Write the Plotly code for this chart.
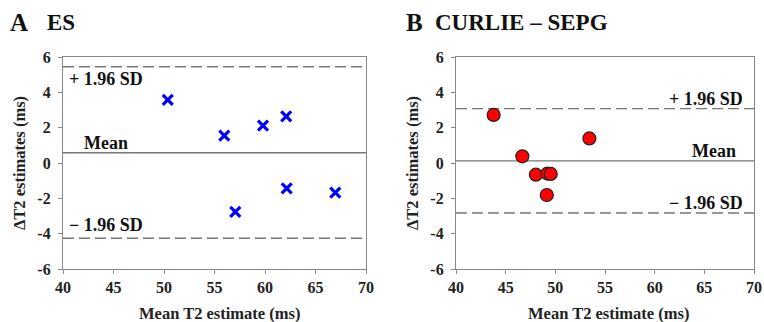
import plotly.graph_objects as go

# Panel A (ES)
a_x = [50.37, 55.97, 59.8, 62.1, 57.06, 62.15, 66.96]
a_y = [3.57, 1.55, 2.11, 2.64, -2.77, -1.43, -1.68]
a_mean, a_upper, a_lower = 0.58, 5.45, -4.26

# Panel B (CURLIE - SEPG)
b_x = [43.79, 46.68, 48.04, 49.2, 49.54, 49.14, 53.43]
b_y = [2.72, 0.38, -0.66, -0.6, -0.62, -1.81, 1.39]
b_mean, b_upper, b_lower = 0.12, 3.08, -2.83

x_ticks = [40, 45, 50, 55, 60, 65, 70]
y_ticks = [-6, -4, -2, 0, 2, 4, 6]

FONT = "Liberation Serif"
W, H = 764, 322

fig = go.Figure()
fig.add_trace(go.Scatter(x=a_x, y=a_y, mode="markers", xaxis="x", yaxis="y",
                         marker=dict(symbol="x-thin", size=10, color="#0000ff",
                                     line=dict(width=3.2, color="#0000ff")),
                         showlegend=False))
fig.add_trace(go.Scatter(x=b_x, y=b_y, mode="markers", xaxis="x2", yaxis="y2",
                         marker=dict(symbol="circle", size=13, color="#ff0000",
                                     line=dict(width=1.2, color="#222222")),
                         showlegend=False))

tickfont = dict(family=FONT, size=16, color="#222")
axis_common = dict(range=[40, 70], tickvals=x_ticks,
                   ticktext=["<b>%d</b>" % v for v in x_ticks],
                   ticks="outside", ticklen=4, automargin=False,
                   tickcolor="#888", showline=True, linecolor="#888", linewidth=1.2,
                   mirror=True, showgrid=False, zeroline=False, tickfont=tickfont)
yaxis_common = dict(range=[-6, 6], tickvals=y_ticks,
                    ticktext=["<b>%d</b>" % v for v in y_ticks],
                    ticks="outside", ticklen=4, automargin=False, ticklabelstandoff=4,
                    tickcolor="#888", showline=True, linecolor="#888", linewidth=1.2,
                    mirror=True, showgrid=False, zeroline=False, tickfont=tickfont)

xa = [63 / W, 366 / W]
xb = [456 / W, 754 / W]
yd = [(H - 269) / H, (H - 57) / H]

fig.update_layout(
    width=W, height=H, margin=dict(l=0, r=0, t=0, b=0),
    paper_bgcolor="white", plot_bgcolor="white",
    font=dict(family=FONT, color="#222"),
    xaxis=dict(domain=xa, anchor="y", **axis_common),
    yaxis=dict(domain=yd, anchor="x", **yaxis_common),
    xaxis2=dict(domain=xb, anchor="y2", **axis_common),
    yaxis2=dict(domain=yd, anchor="x2", **yaxis_common),
)

def hline(xref, yref, y, dash):
    fig.add_shape(type="line", xref=xref + " domain", yref=yref, x0=0, x1=1, y0=y, y1=y,
                  line=dict(color="#777", width=1.4, dash=dash), layer="below")

DASH = "11px,5px"
hline("x", "y", a_mean, "solid")
hline("x", "y", a_upper, DASH)
hline("x", "y", a_lower, DASH)
hline("x2", "y2", b_mean, "solid")
hline("x2", "y2", b_upper, DASH)
hline("x2", "y2", b_lower, DASH)

lab = dict(family=FONT, size=18, color="#111")
def ann(text, xref, yref, x, y, xanchor, yanchor="middle", font=lab, angle=0):
    fig.add_annotation(text="<b>" + text + "</b>", xref=xref, yref=yref, x=x, y=y,
                       xanchor=xanchor, yanchor=yanchor, showarrow=False, font=font,
                       textangle=angle)

# Panel A labels (positioned relative to the lines)
ann("+ 1.96 SD", "x domain", "y", 0.012, a_upper - 0.72, "left")
ann("Mean", "x domain", "y", 0.062, a_mean + 0.55, "left")
ann("− 1.96 SD", "x domain", "y", 0.012, a_lower + 0.75, "left")
# Panel B labels
ann("+ 1.96 SD", "x2 domain", "y2", 0.97, b_upper + 0.55, "right")
ann("Mean", "x2 domain", "y2", 0.945, b_mean + 0.55, "right")
ann("− 1.96 SD", "x2 domain", "y2", 0.97, b_lower + 0.55, "right")

# Axis titles
axt = dict(family=FONT, size=16.5, color="#222")
for xc in (219, 608):
    ann("Mean T2 estimate (ms)", "paper", "paper", xc / W, 1 - 313 / H, "center", font=axt)
for xc in (19, 412):
    ann("ΔT2 estimates (ms)", "paper", "paper", xc / W, 1 - 163 / H, "center", font=axt,
        angle=-90)

# Panel titles
tf_big = dict(family=FONT, size=25, color="#111")
tf = dict(family=FONT, size=23, color="#111")
ann("A", "paper", "paper", 8 / W, 1 - 23 / H, "left", font=tf_big)
ann("ES", "paper", "paper", 45 / W, 1 - 23 / H, "left", font=tf)
ann("B", "paper", "paper", 404 / W, 1 - 23 / H, "left", font=tf_big)
ann("CURLIE – SEPG", "paper", "paper", 433 / W, 1 - 23 / H, "left", font=tf)

fig.write_html("out.html", config={"displayModeBar": False},
               post_script="document.body.style.margin='0';document.body.style.overflow='hidden';")
